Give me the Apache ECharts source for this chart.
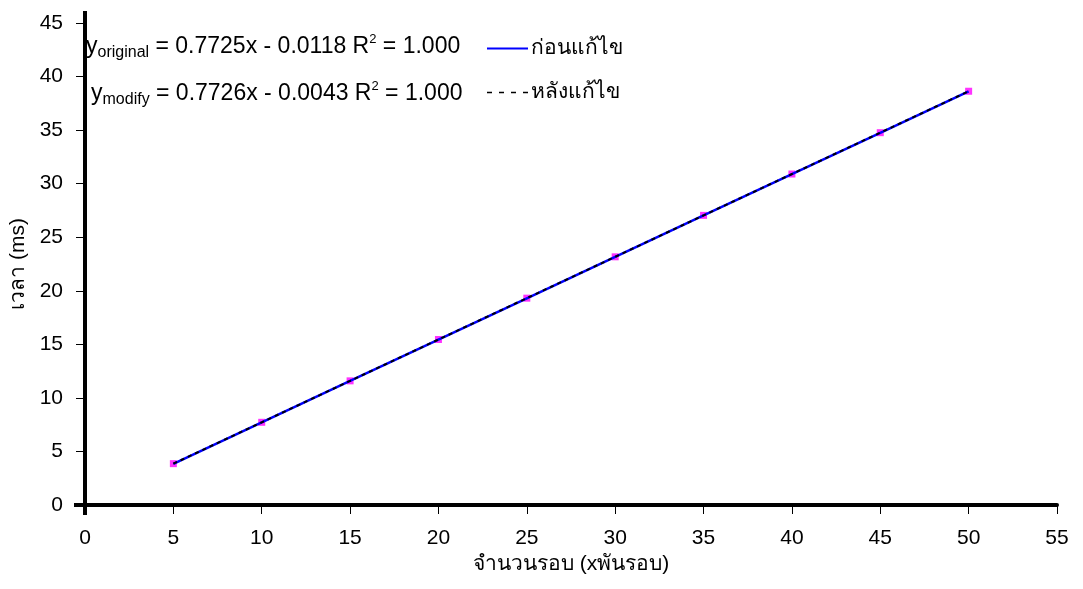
<!DOCTYPE html>
<html>
<head>
<meta charset="utf-8">
<title>เวลา เทียบกับ จำนวนรอบ</title>
<script src="https://cdn.jsdelivr.net/npm/echarts@6/dist/echarts.min.js"></script>
<style>
  html, body { margin: 0; padding: 0; background: #ffffff; }
  #chart { width: 1083px; height: 589px; }
</style>
</head>
<body>
<div id="chart"></div>
<script>
// Loop counts (thousands of loops)
const rounds = [5, 10, 15, 20, 25, 30, 35, 40, 45, 50];
// Measured time (ms) before the change
const timeOriginal = [3.85, 7.71, 11.58, 15.44, 19.30, 23.16, 27.03, 30.89, 34.75, 38.61];
// Measured time (ms) after the change
const timeModify = [3.86, 7.72, 11.59, 15.45, 19.31, 23.17, 27.04, 30.90, 34.76, 38.63];

const seriesNames = ['ก่อนแก้ไข', 'หลังแก้ไข'];
const xAxisTitle = 'จำนวนรอบ (xพันรอบ)';
const yAxisTitle = 'เวลา (ms)';

// Trendline equations shown at the top-left of the plot
const equationOriginal = { sub: 'original', text: ' = 0.7725x - 0.0118 R', tail: ' = 1.000' };
const equationModify = { sub: 'modify', text: ' = 0.7726x - 0.0043 R', tail: ' = 1.000' };

const FONT = '"Liberation Sans", Arial, "Noto Sans", sans-serif';

const pairs = (xs, ys) => xs.map((x, i) => [x, ys[i]]);

const chart = echarts.init(document.getElementById('chart'), null, { renderer: 'canvas' });

const richEq = {
  m: { fontSize: 23, lineHeight: 28, fontFamily: FONT, color: '#000' },
  s: { fontSize: 16, lineHeight: 16, verticalAlign: 'bottom', fontFamily: FONT, color: '#000' },
  p: { fontSize: 13, lineHeight: 14, verticalAlign: 'top', fontFamily: FONT, color: '#000' }
};
const eqText = (e) => '{m|y}{s|' + e.sub + '}{m|' + e.text + '}{p|2}{m|' + e.tail + '}';

chart.setOption({
  animation: false,
  backgroundColor: '#ffffff',
  grid: { left: 85, right: 26, top: 23, bottom: 84, containLabel: false, outerBoundsMode: 'none' },
  xAxis: {
    type: 'value',
    min: 0, max: 55, interval: 5,
    name: xAxisTitle,
    nameLocation: 'middle',
    nameGap: 48,
    nameTextStyle: { fontSize: 21, fontFamily: FONT, color: '#000' },
    axisLine: { show: true, onZero: false, lineStyle: { color: '#000', width: 4 } },
    axisTick: { show: true, inside: false, length: 9, lineStyle: { color: '#000', width: 1 } },
    axisLabel: { margin: 23, fontSize: 21, fontFamily: FONT, color: '#000' },
    splitLine: { show: false }
  },
  yAxis: {
    type: 'value',
    min: 0, max: 45, interval: 5,
    name: yAxisTitle,
    nameLocation: 'middle',
    nameGap: 55,
    nameRotate: 90,
    nameTextStyle: { fontSize: 21, fontFamily: FONT, color: '#000' },
    axisLine: { show: true, onZero: false, lineStyle: { color: '#000', width: 4 } },
    axisTick: { show: true, inside: false, length: 9, lineStyle: { color: '#000', width: 1 } },
    axisLabel: { margin: 22, fontSize: 21, fontFamily: FONT, color: '#000' },
    splitLine: { show: false }
  },
  legend: {
    orient: 'vertical',
    left: 481,
    top: 33,
    itemWidth: 41,
    itemHeight: 14,
    itemGap: 23,
    selectedMode: false,
    data: [
      { name: seriesNames[0], lineStyle: { color: '#0000ff', width: 2, type: 'solid' } },
      { name: seriesNames[1], lineStyle: { color: '#000000', width: 1.5, type: [5, 7] } }
    ],
    itemStyle: { opacity: 0 },
    textStyle: { fontSize: 21, fontFamily: FONT, color: '#000', padding: [0, 0, 0, -2] }
  },
  series: [
    {
      name: 'markers',
      type: 'scatter',
      data: pairs(rounds, timeModify),
      symbol: 'rect',
      symbolSize: 7,
      itemStyle: { color: '#ff00ff' },
      z: 1
    },
    {
      name: seriesNames[0],
      type: 'line',
      data: pairs(rounds, timeOriginal),
      symbol: 'none',
      lineStyle: { color: '#0000ff', width: 2.5, type: 'solid' },
      itemStyle: { color: '#0000ff' },
      z: 2
    },
    {
      name: seriesNames[1],
      type: 'line',
      data: pairs(rounds, timeModify),
      symbol: 'none',
      lineStyle: { color: '#000000', width: 2, type: [4, 4] },
      itemStyle: { color: '#000000' },
      z: 3
    }
  ]
});

// Excel-style axis lines that run a little past the plot corner and top
const originPx = chart.convertToPixel({ gridIndex: 0 }, [0, 0]);
const yMaxPx = chart.convertToPixel({ gridIndex: 0 }, [0, 45]);

chart.setOption({
  graphic: [
    { type: 'line', shape: { x1: originPx[0], y1: yMaxPx[1] - 12, x2: originPx[0], y2: originPx[1] + 10 },
      style: { stroke: '#000', lineWidth: 4 }, z: 10 },
    { type: 'line', shape: { x1: originPx[0] - 11, y1: originPx[1], x2: originPx[0], y2: originPx[1] },
      style: { stroke: '#000', lineWidth: 4 }, z: 10 },
    { type: 'text', x: originPx[0] + 1, y: 47, z: 11,
      style: { text: eqText(equationOriginal), rich: richEq, verticalAlign: 'middle', fill: '#000' } },
    { type: 'text', x: originPx[0] + 6, y: 94, z: 11,
      style: { text: eqText(equationModify), rich: richEq, verticalAlign: 'middle', fill: '#000' } }
  ]
});
</script>
</body>
</html>
